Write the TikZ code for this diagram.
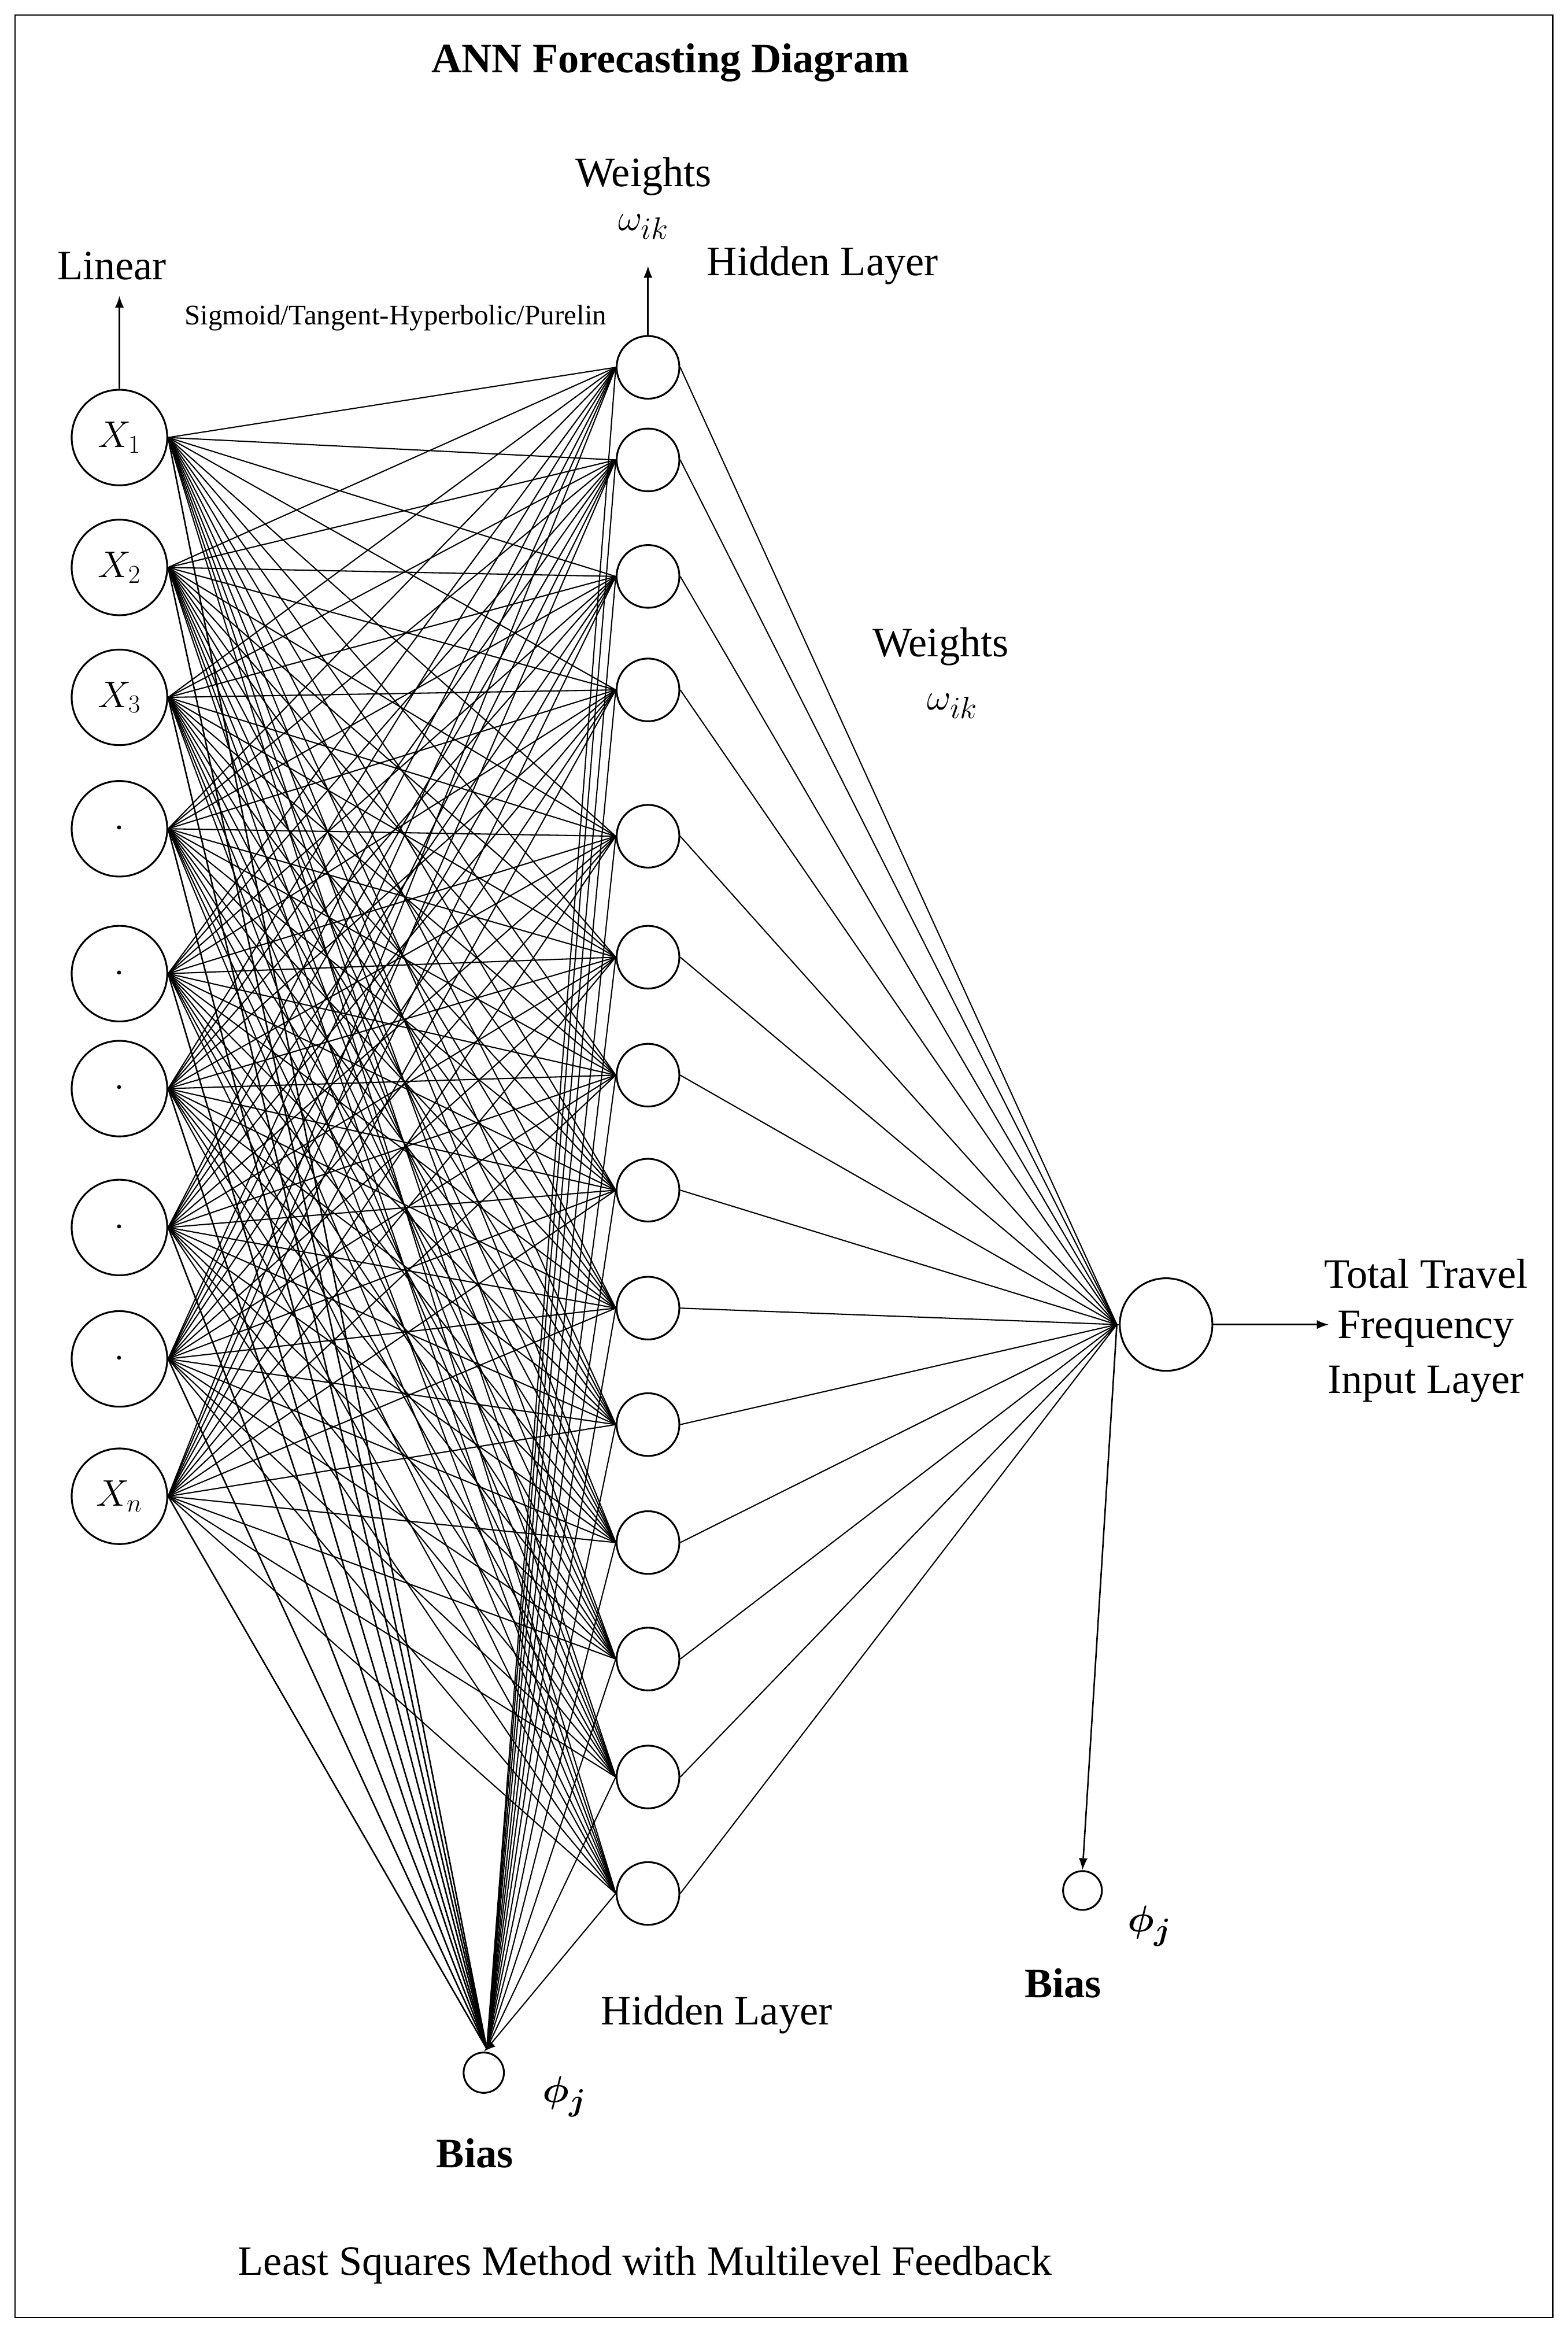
\documentclass[tikz,border=0pt]{standalone}
\usepackage{amsmath,amssymb,bm}
\usepackage{fontspec}
\setmainfont{Liberation Serif}
\usetikzlibrary{arrows.meta}
\begin{document}
\begin{tikzpicture}[x=1pt,y=-1pt,
  inn/.style={circle,draw,line width=1.2pt,minimum size=64pt,inner sep=0pt,font=\fontsize{27}{30}\selectfont},
  hid/.style={circle,draw,line width=1.2pt,minimum size=42pt,inner sep=0pt},
  lbl/.style={font=\fontsize{28}{32}\selectfont},
  con/.style={line width=0.8pt},
  arr/.style={line width=1pt,-{Latex[length=8pt,width=6pt]}}]
\useasboundingbox (0,0) rectangle (1050,1559);
\draw[line width=1pt] (10,10) rectangle (1040,1552);
% inputs
\foreach \y/\t [count=\i] in {293/$X_1$,380/$X_2$,467/$X_3$,555/$\cdot$,652/$\cdot$,729/$\cdot$,822/$\cdot$,910/$\cdot$,1002/$X_n$}
  \node[inn] (in\i) at (80,\y) {\t};
\foreach \y [count=\j] in {246,308,386,462,560,641,720,797,876,954,1033,1111,1190,1268}
  \node[hid] (h\j) at (434,\y) {};
\node[circle,draw,line width=1.2pt,minimum size=62pt,inner sep=0pt] (out) at (781,887) {};
\node[circle,draw,line width=1.2pt,minimum size=27pt,inner sep=0pt] (b1) at (324,1388) {};
\node[circle,draw,line width=1.2pt,minimum size=26pt,inner sep=0pt] (b2) at (725,1266) {};
\coordinate (bp) at (326,1372);
\coordinate (op) at (748,887);
\coordinate (lin) at (80,198);
\coordinate (wt) at (434,178);
\coordinate (res) at (890,887);
% connections
\foreach \i in {1,...,9}{
  \foreach \j in {1,...,14} \draw[con] (in\i.east) -- (h\j.west);
  \draw[line width=1pt] (in\i.east) -- (bp);
}
\foreach \j in {1,...,14}{
  \draw[con] (h\j.west) -- (bp);
  \draw[con] (h\j.east) -- (op);
}
\draw[arr] (bp) -- (b1.north);
\draw[con] (op) -- (out.west);
\draw[arr] (op) -- (b2.north);
\draw[arr] (out.east) -- (res);
\draw[arr] (in1.north) -- (lin);
\draw[arr] (h1.north) -- (wt);
% texts
\node[font=\fontsize{28}{32}\selectfont\bfseries] (title) at (449,42) {ANN Forecasting Diagram};
\node[lbl] (w1) at (431,118) {Weights};
\node[lbl] (w1s) at (431,152) {$\omega_{ik}$};
\node[lbl,anchor=west] (hl1) at (470,178) {Hidden Layer};
\node[lbl] (linear) at (75,178) {Linear};
\node[font=\fontsize{19}{22}\selectfont] (sig) at (265,213) {Sigmoid/Tangent-Hyperbolic/Purelin};
\node[lbl] (w2) at (630,433) {Weights};
\node[lbl] (w2s) at (638,473) {$\omega_{ik}$};
\node[lbl] (tt) at (955,853) {Total Travel};
\node[lbl] (fr) at (955,890) {Frequency};
\node[lbl] (il) at (955,927) {Input Layer};
\node[lbl] (hl2) at (480,1349) {Hidden Layer};
\node[lbl] (phi1) at (378,1404) {$\bm{\phi_j}$};
\node[font=\fontsize{28}{32}\selectfont\bfseries] (bias1) at (318,1442) {Bias};
\node[lbl] (phi2) at (770,1290) {$\bm{\phi_j}$};
\node[font=\fontsize{28}{32}\selectfont\bfseries] (bias2) at (712,1328) {Bias};
\node[lbl] (lsm) at (432,1517) {Least Squares Method with Multilevel Feedback};
\end{tikzpicture}
\end{document}
